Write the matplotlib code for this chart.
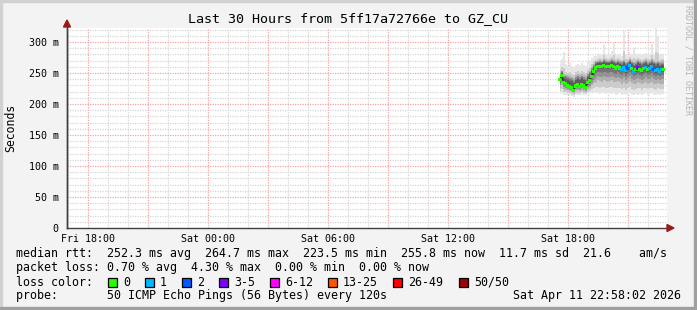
import matplotlib
matplotlib.use("Agg")
import matplotlib.pyplot as plt
import numpy as np
from matplotlib.patches import Rectangle, Polygon

# ── data ──────────────────────────────────────────────────────────
# time axis in hours since Fri 00:00, window = last 30 hours
t_start = 16.967
t_end = 46.967
t_first = 41.6          # first sample (Sat 17:36), one sample every 6 min
t_step = 0.1

median = [240, 246, 234, 233, 230, 228, 226, 222, 229, 231, 228, 232, 229, 226,
          235, 238, 245, 252, 258, 260, 261, 260, 262, 261, 260, 261, 262, 260,
          258, 261, 258, 256, 259, 254, 258, 262, 257, 253, 255, 258, 256, 254,
          257, 259, 255, 257, 260, 256, 254, 256, 253, 255, 255]
loss = [0, 0, 0, 0, 0, 0, 0, 0, 0, 0, 0, 0, 0, 0, 0, 0, 0, 0, 0, 0, 0, 0,
        0, 0, 0, 0, 0, 0, 0, 0, 0, 1, 1, 1, 2, 1, 0, 1, 0, 3, 0, 0, 0, 1,
        0, 1, 1, 2, 1, 1, 1, 1, 0]
smoke_lo = [216, 218, 214, 215, 214, 215, 213, 212, 214, 215, 214, 216, 215, 214,
            216, 217, 218, 219, 218, 217, 216, 218, 217, 216, 217, 218, 216, 217,
            215, 216, 217, 215, 216, 214, 216, 217, 215, 214, 216, 215, 216, 214,
            216, 217, 215, 216, 217, 215, 214, 216, 215, 216, 216]
smoke_q1 = [226, 230, 224, 223, 222, 221, 220, 218, 221, 222, 221, 223, 221, 220,
            224, 226, 230, 234, 236, 238, 237, 236, 238, 237, 236, 237, 238, 236,
            235, 237, 235, 233, 236, 232, 234, 237, 234, 232, 233, 235, 234, 232,
            234, 236, 233, 234, 236, 233, 232, 234, 232, 233, 233]
smoke_q3 = [250, 254, 248, 247, 246, 245, 244, 242, 246, 248, 246, 248, 246, 245,
            250, 254, 260, 265, 269, 270, 271, 270, 272, 271, 270, 271, 272, 271,
            270, 271, 270, 269, 271, 268, 270, 272, 270, 268, 269, 271, 270, 268,
            270, 271, 269, 270, 272, 270, 268, 270, 268, 269, 269]
smoke_hi = [266, 272, 284, 264, 262, 266, 261, 259, 263, 265, 262, 266, 263, 262,
            267, 270, 274, 277, 278, 279, 280, 279, 295, 280, 279, 281, 286, 300,
            279, 281, 280, 278, 318, 281, 279, 282, 280, 290, 279, 281, 280, 279,
            281, 282, 280, 281, 296, 280, 322, 310, 279, 280, 279]

y_ticks = [0, 50, 100, 150, 200, 250, 300]
y_tick_labels = ["0", "50 m", "100 m", "150 m", "200 m", "250 m", "300 m"]
x_ticks = [18, 24, 30, 36, 42]
x_tick_labels = ["Fri 18:00", "Sat 00:00", "Sat 06:00", "Sat 12:00", "Sat 18:00"]

loss_bins = ["0", "1", "2", "3-5", "6-12", "13-25", "26-49", "50/50"]
loss_colors = ["#26ff00", "#00b8ff", "#0059ff", "#7e00ff",
               "#ff00ff", "#ff5500", "#ff0000", "#a00000"]

legend_lines = [
    "median rtt:  252.3 ms avg  264.7 ms max  223.5 ms min  255.8 ms now  11.7 ms sd  21.6    am/s",
    "packet loss: 0.70 % avg  4.30 % max  0.00 % min  0.00 % now",
]
probe_text = "probe:       50 ICMP Echo Pings (56 Bytes) every 120s"
stamp_text = "Sat Apr 11 22:58:02 2026"


def loss_color(n):
    edges = [0, 1, 2, 5, 12, 25, 49, 50]
    for i, e in enumerate(edges):
        if n <= e:
            return loss_colors[i]
    return loss_colors[-1]


# ── figure ────────────────────────────────────────────────────────
W, H = 697, 310
fig = plt.figure(figsize=(W / 100, H / 100), dpi=100, facecolor="#f3f3f3")
MONO = "DejaVu Sans Mono"


def fx(px):
    return px / W


def fy(py):
    return 1 - py / H


ax = fig.add_axes([fx(67), fy(228), 600 / W, 200 / H])
ax.set_facecolor("white")
ax.set_xlim(t_start, t_end)
ax.set_ylim(0, 200 / 0.62)

t = t_first + t_step * np.arange(len(median))
med = np.array(median, float)
lo, q1 = np.array(smoke_lo, float), np.array(smoke_q1, float)
q3, hi = np.array(smoke_q3, float), np.array(smoke_hi, float)

# grid
dots = (0, (1, 1))
for h in np.arange(17, 47, 1):
    if h % 3:
        ax.axvline(h, color="#d6d6d6", lw=0.9, ls=dots, zorder=1)
for v in np.arange(10, 330, 10):
    if v % 50:
        ax.axhline(v, color="#d6d6d6", lw=0.9, ls=dots, zorder=1)
for h in np.arange(18, 47, 3):
    ax.axvline(h, color="#f2a4a4", lw=0.9, ls=dots, zorder=1)
for v in np.arange(50, 330, 50):
    ax.axhline(v, color="#f2a4a4", lw=0.9, ls=dots, zorder=1)

# smoke
kw = dict(step="mid", lw=0, zorder=2)
ax.fill_between(t, lo, hi, color="#e6e6e6", **kw)
ax.fill_between(t, lo + (q1 - lo) * 0.5, q3 + (hi - q3) * 0.3, color="#cccccc", **kw)
for f, c in [(0.0, "#b0b0b0"), (0.3, "#939393"), (0.6, "#767676"), (0.85, "#5c5c5c")]:
    ax.fill_between(t, q1 + (med - q1) * f, q3 - (q3 - med) * f * 0.5, color=c, **kw)

# median
ax.plot(t, med, color="#202020", lw=0.9, zorder=3)
ax.scatter(t, med, marker="s", s=5, c=[loss_color(n) for n in loss],
           lw=0, zorder=4)

# axes
for s in ["top", "right"]:
    ax.spines[s].set_visible(False)
for s in ["left", "bottom"]:
    ax.spines[s].set_color("#404040")
    ax.spines[s].set_linewidth(1)
ax.set_yticks(y_ticks)
ax.set_yticklabels(y_tick_labels, fontsize=7.2, family=MONO)
ax.set_xticks(x_ticks)
ax.set_xticklabels(x_tick_labels, fontsize=7.2, family=MONO)
ax.tick_params(length=0, pad=4)
ax.tick_params(axis="y", pad=6)

# arrows
fig.patches.append(Polygon([[fx(63.5), fy(27)], [fx(70.5), fy(27)], [fx(67), fy(20)]],
                           closed=True, color="#9a1a1a", transform=fig.transFigure,
                           figure=fig))
fig.patches.append(Polygon([[fx(667), fy(224.5)], [fx(667), fy(231.5)], [fx(674), fy(228)]],
                           closed=True, color="#9a1a1a", transform=fig.transFigure,
                           figure=fig))
fig.lines.append(plt.Line2D([fx(67), fx(67)], [fy(228), fy(26)], color="#404040",
                            lw=1, transform=fig.transFigure))

# frame
fig.patches.append(Rectangle((0, 1 - 2 / H), 1, 2 / H, color="#d2d2d2",
                             transform=fig.transFigure, figure=fig))
fig.patches.append(Rectangle((0, 0), 2 / W, 1, color="#d2d2d2",
                             transform=fig.transFigure, figure=fig))
fig.patches.append(Rectangle((0, 0), 1, 3 / H, color="#a0a0a0",
                             transform=fig.transFigure, figure=fig))
fig.patches.append(Rectangle((1 - 3 / W, 0), 3 / W, 1, color="#a0a0a0",
                             transform=fig.transFigure, figure=fig))

# texts
fig.text(fx(348), fy(19), "Last 30 Hours from 5ff17a72766e to GZ_CU",
         family=MONO, fontsize=9.6, ha="center", va="center")
fig.text(fx(11), fy(128), "Seconds", family=MONO, fontsize=8.3,
         rotation=90, ha="center", va="center")
fig.text(fx(688), fy(5), "RRDTOOL / TOBI OETIKER", family=MONO, fontsize=6,
         rotation=270, ha="center", va="top", color="#b4b4b4")

LS = 8.36
fig.text(fx(16), fy(254), legend_lines[0], family=MONO, fontsize=LS, va="center")
fig.text(fx(16), fy(268), legend_lines[1], family=MONO, fontsize=LS, va="center")
fig.text(fx(16), fy(296), probe_text, family=MONO, fontsize=LS, va="center")
fig.text(fx(681), fy(296), stamp_text, family=MONO, fontsize=LS,
         va="center", ha="right")

fig.text(fx(16), fy(282), "loss color:", family=MONO, fontsize=LS, va="center")
box_x = [108, 145, 182, 219, 270, 328, 393, 459]
for bx, lab, col in zip(box_x, loss_bins, loss_colors):
    fig.patches.append(Rectangle((fx(bx), fy(287)), 9 / W, 9 / H, facecolor=col,
                                 edgecolor="black", lw=0.9,
                                 transform=fig.transFigure, figure=fig))
    fig.text(fx(bx + 15), fy(282), lab, family=MONO, fontsize=LS, va="center")

fig.savefig("out.png", dpi=100, facecolor=fig.get_facecolor())
